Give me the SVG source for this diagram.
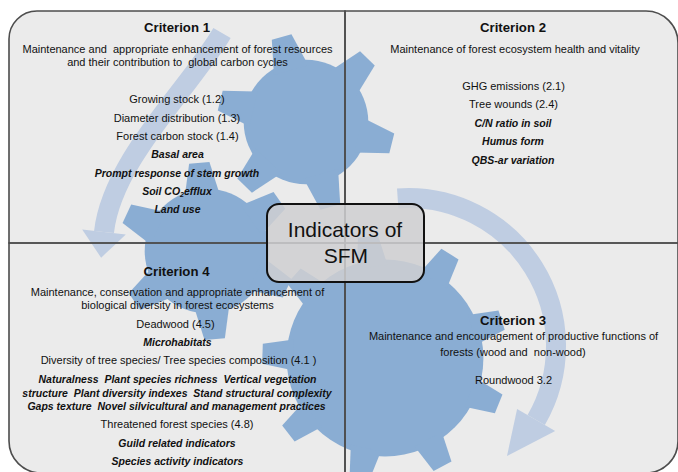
<svg xmlns="http://www.w3.org/2000/svg" width="678" height="472" viewBox="0 0 678 472">
<style>
.q{fill:#ebebeb}
.qo{fill:none;stroke:#4d4d4d;stroke-width:1.6}
.gear{fill:#8aadd3}
.arr{fill:none;stroke:#bfcde2;stroke-width:20}
.ah{fill:#bfcde2}
text{font-family:"Liberation Sans",Arial,sans-serif;fill:#111;text-anchor:middle}
.t{font-size:11px}
.bi{font-size:10.5px;font-weight:bold;font-style:italic}
.h{font-size:13.2px;font-weight:bold}
.c{font-size:21px}
</style>
<defs>
<polygon id="t6" points="54,-17.9 88.4,-10.2 88.4,10.2 54,17.9"/>
<polygon id="t9" points="92,-15.4 122.6,-10.1 122.6,10.1 92,15.4"/>
</defs>
<rect width="678" height="472" fill="#ffffff"/>
<g id="background">
<path class="q" d="M9,243 V39 A28,28 0 0 1 37,11 H345 V243 Z"/>
<path class="q" d="M345,11 H646 A32,32 0 0 1 678,43 V243 H345 Z"/>
<path class="q" d="M9,243 V441 A32,32 0 0 0 41,473 H345 V243 Z"/>
<path class="q" d="M345,243 H678 V441 A32,32 0 0 1 646,473 H345 Z"/>
</g>
<g id="gears" class="gear">
<g id="gear-large" transform="translate(385,358)">
<circle r="98.4"/>
<use href="#t9" transform="rotate(-58)"/>
<use href="#t9" transform="rotate(-18)"/>
<use href="#t9" transform="rotate(22)"/>
<use href="#t9" transform="rotate(62)"/>
<use href="#t9" transform="rotate(102)"/>
<use href="#t9" transform="rotate(142)"/>
<use href="#t9" transform="rotate(182)"/>
<use href="#t9" transform="rotate(222)"/>
<use href="#t9" transform="rotate(262)"/>
</g>
<g id="gear-left" transform="translate(207,251)">
<circle r="62.3"/>
<use href="#t6" transform="rotate(25)"/>
<use href="#t6" transform="rotate(85)"/>
<use href="#t6" transform="rotate(145)"/>
<use href="#t6" transform="rotate(205)"/>
<use href="#t6" transform="rotate(265)"/>
<use href="#t6" transform="rotate(325)"/>
</g>
<g id="gear-top" transform="translate(306,122)">
<circle r="62.3"/>
<use href="#t6" transform="rotate(14)"/>
<use href="#t6" transform="rotate(74)"/>
<use href="#t6" transform="rotate(134)"/>
<use href="#t6" transform="rotate(194)"/>
<use href="#t6" transform="rotate(254)"/>
<use href="#t6" transform="rotate(314)"/>
</g>
</g>
<g id="connectors">
<path class="arr" d="M222,33 C190,88 112,160 104,232"/>
<polygon class="ah" points="125.8,234.4 82.2,229.6 101.1,257.7"/>
<path class="arr" d="M397.7,198.4 A148,148 0 0 1 536.2,420"/>
<polygon class="ah" points="555.2,431 517.1,409 507,456"/>
</g>
<g id="criterion1">
<path class="qo" d="M9,243 V39 A28,28 0 0 1 37,11 H345 V243 Z"/>
<text class="h" x="177" y="32">Criterion 1</text>
<text class="t" x="177.5" y="53" xml:space="preserve">Maintenance and  appropriate enhancement of forest resources</text>
<text class="t" x="177.5" y="66" xml:space="preserve">and their contribution to  global carbon cycles</text>
<text class="t" x="177" y="103">Growing stock (1.2)</text>
<text class="t" x="177" y="121.5">Diameter distribution (1.3)</text>
<text class="t" x="177.5" y="140">Forest carbon stock (1.4)</text>
<text class="bi" x="177.5" y="158">Basal area</text>
<text class="bi" x="177" y="176.5">Prompt response of stem growth</text>
<text class="bi" x="177" y="194.5">Soil CO<tspan font-size="7" dy="2.5">2</tspan><tspan dy="-2.5">efflux</tspan></text>
<text class="bi" x="177.5" y="213">Land use</text>
</g>
<g id="criterion2">
<path class="qo" d="M345,11 H646 A32,32 0 0 1 678,43 V243 H345 Z"/>
<text class="h" x="513" y="32">Criterion 2</text>
<text class="t" x="515" y="53">Maintenance of forest ecosystem health and vitality</text>
<text class="t" x="513.5" y="89.5">GHG emissions (2.1)</text>
<text class="t" x="513.5" y="108">Tree wounds (2.4)</text>
<text class="bi" x="513" y="126.5">C/N ratio in soil</text>
<text class="bi" x="513" y="145">Humus form</text>
<text class="bi" x="513" y="163.5">QBS-ar variation</text>
</g>
<g id="criterion4">
<path class="qo" d="M9,243 V441 A32,32 0 0 0 41,473 H345 V243 Z"/>
<text class="h" x="176.5" y="276">Criterion 4</text>
<text class="t" x="177.5" y="296">Maintenance, conservation and appropriate enhancement of</text>
<text class="t" x="177.5" y="308.5">biological diversity in forest ecosystems</text>
<text class="t" x="175.5" y="328">Deadwood (4.5)</text>
<text class="bi" x="177.5" y="346">Microhabitats</text>
<text class="t" x="178.5" y="364">Diversity of tree species/ Tree species composition (4.1 )</text>
<text class="bi" x="177.5" y="383" xml:space="preserve">Naturalness  Plant species richness  Vertical vegetation</text>
<text class="bi" x="177" y="396.5" xml:space="preserve">structure  Plant diversity indexes  Stand structural complexity</text>
<text class="bi" x="176.5" y="410" xml:space="preserve">Gaps texture  Novel silvicultural and management practices</text>
<text class="t" x="177" y="428">Threatened forest species (4.8)</text>
<text class="bi" x="177" y="446.5">Guild related indicators</text>
<text class="bi" x="177.5" y="465">Species activity indicators</text>
</g>
<g id="criterion3">
<path class="qo" d="M345,243 H678 V441 A32,32 0 0 1 646,473 H345 Z"/>
<text class="h" x="513" y="325">Criterion 3</text>
<text class="t" x="513.5" y="340">Maintenance and encouragement of productive functions of</text>
<text class="t" x="513" y="355.5" xml:space="preserve">forests (wood and  non-wood)</text>
<text class="t" x="513.5" y="384">Roundwood 3.2</text>
</g>
<g id="center">
<rect x="267" y="204" width="157" height="78" rx="12" fill="#cfcfd1" fill-opacity="0.85" stroke="#111" stroke-width="2"/>
<text class="c" x="345" y="237">Indicators of</text>
<text class="c" x="345.8" y="263">SFM</text>
</g>
</svg>
